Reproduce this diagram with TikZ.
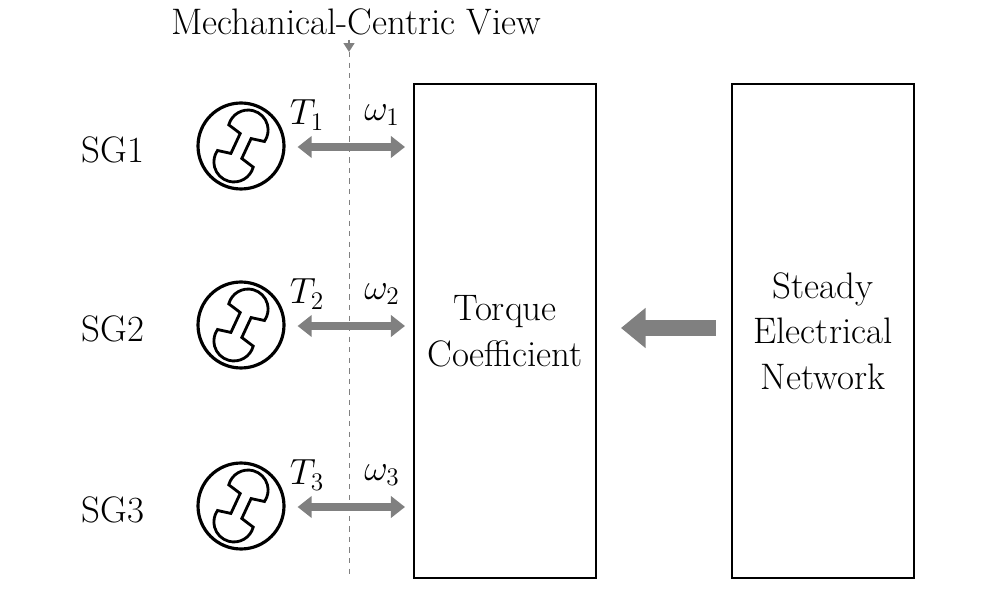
\documentclass[tikz,border=0pt]{standalone}
\usepackage{amsmath}
\usetikzlibrary{arrows.meta}

\tikzset{
  block/.style={draw, line width=1.2pt, minimum width=3.64cm, minimum height=9.88cm, align=center, font=\fontsize{21}{26}\selectfont},
  gen/.style={draw, circle, line width=1.8pt, minimum size=1.72cm},
  flow/.style={draw=gray, line width=4.5pt, {Triangle[length=8pt,width=12pt]}-{Triangle[length=8pt,width=12pt]}},
  lbl/.style={font=\fontsize{21}{26}\selectfont}
}
\newcommand{\rotor}[1]{%
  \draw[line width=1.6pt, shift={(#1)}, rotate=-25]
    (6,-11) -- (6,11) -- (20,14) arc (-10:190:20) -- (-6,11)
    -- (-6,-11) -- (-20,-14) arc (170:370:20) -- cycle;}

\begin{document}
\begin{tikzpicture}[x=0.02cm, y=-0.02cm]
  \useasboundingbox (0,0) rectangle (1003,590);

  % header and divider
  \node[lbl] (view) at (356,22) {Mechanical-Centric View};
  \coordinate (vtop) at (349,40);
  \coordinate (vmid) at (349,52);
  \coordinate (vbot) at (349,576);
  \draw[gray, line width=1.2pt, -{Triangle[length=5pt,width=6pt]}] (vtop) -- (vmid);
  \draw[gray, dashed, line width=0.5pt] (vmid) -- (vbot);

  % blocks
  \node[block] (torque) at (505,331) {Torque\\Coefficient};
  \node[block] (net) at (823,331) {Steady\\Electrical\\Network};
  \draw[draw=gray, line width=9pt, -{Triangle[length=14pt,width=22pt]}] (net.west) ++(-15,-3) coordinate (nw) (nw) -- ++(-95,0) coordinate (tw);

  % generators
  \foreach \i/\y in {1/147, 2/326, 3/507} {
    \node[gen] (sg\i) at (241,\y-1) {};
    \rotor{sg\i}
    \node[lbl] (name\i) at (113,\y+3) {SG\i};
    \coordinate (port\i) at (405,\y);
    \draw[flow] (sg\i.east) ++(12,1) -- (port\i);
    \node[lbl] (t\i) at (307,\y-32) {$T_{\i}$};
    \node[lbl] (w\i) at (382,\y-32) {$\omega_{\i}$};
  }
\end{tikzpicture}
\end{document}
